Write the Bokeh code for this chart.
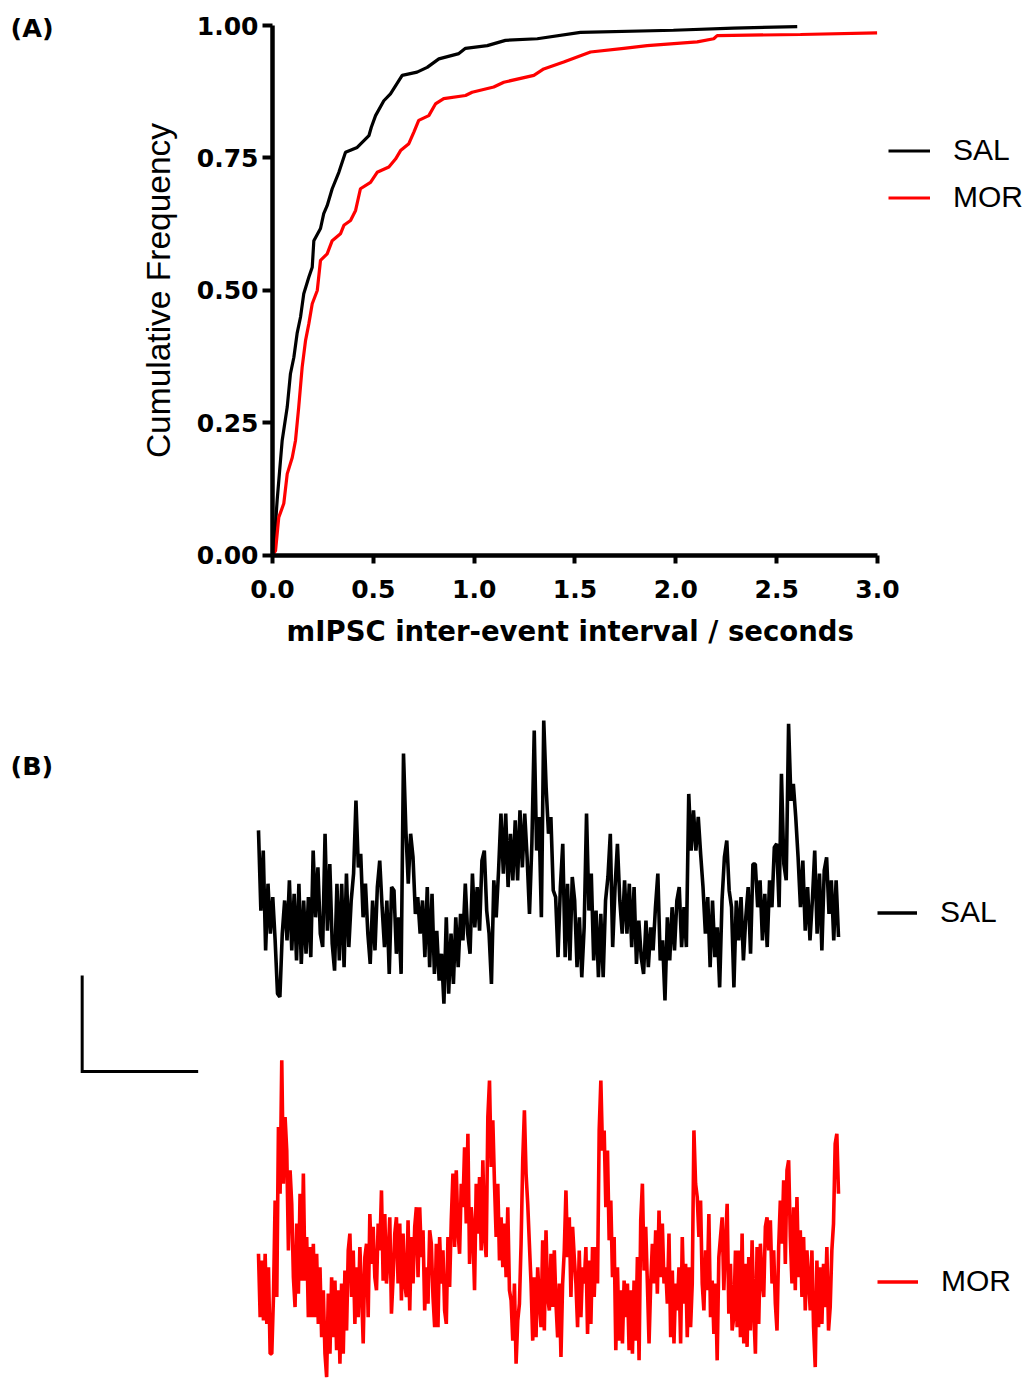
import numpy as np
from bokeh.plotting import figure
from bokeh.models import Range1d, FixedTicker, NumeralTickFormatter, Legend, Label
from bokeh.layouts import column
from bokeh.embed import file_html
from bokeh.resources import INLINE

# ---------------- Panel (A): cumulative frequency of mIPSC inter-event intervals ----------------
sal_interval_s = [0.0, 0.006, 0.023, 0.048, 0.073, 0.089, 0.106, 0.122, 0.139, 0.155,
                  0.180, 0.197, 0.205, 0.238, 0.254, 0.271, 0.296, 0.329, 0.362, 0.420,
                  0.478, 0.490, 0.511, 0.552, 0.585, 0.643, 0.717, 0.767, 0.825, 0.924,
                  0.957, 1.065, 1.155, 1.313, 1.527, 1.988, 2.286, 2.602]
sal_cum_freq = [0.0, 0.009, 0.104, 0.217, 0.280, 0.343, 0.374, 0.419, 0.450, 0.494,
                0.525, 0.544, 0.594, 0.617, 0.645, 0.660, 0.692, 0.723, 0.761, 0.770,
                0.792, 0.808, 0.830, 0.858, 0.871, 0.906, 0.912, 0.921, 0.937, 0.947,
                0.957, 0.962, 0.972, 0.975, 0.987, 0.991, 0.995, 0.998]

mor_interval_s = [0.0, 0.015, 0.031, 0.056, 0.073, 0.098, 0.114, 0.130, 0.147, 0.164,
                  0.180, 0.197, 0.222, 0.238, 0.271, 0.296, 0.337, 0.354, 0.387, 0.412,
                  0.436, 0.486, 0.519, 0.577, 0.610, 0.635, 0.676, 0.701, 0.725, 0.775,
                  0.808, 0.849, 0.957, 0.990, 1.097, 1.147, 1.296, 1.345, 1.444, 1.577,
                  1.742, 1.858, 2.106, 2.188, 2.205, 2.618, 2.998]
mor_cum_freq = [0.0, 0.009, 0.072, 0.098, 0.154, 0.185, 0.217, 0.280, 0.355, 0.406,
                0.437, 0.475, 0.500, 0.557, 0.569, 0.594, 0.607, 0.623, 0.632, 0.651,
                0.692, 0.704, 0.723, 0.733, 0.748, 0.764, 0.777, 0.799, 0.821, 0.830,
                0.852, 0.862, 0.868, 0.874, 0.884, 0.893, 0.906, 0.918, 0.931, 0.950,
                0.957, 0.962, 0.969, 0.975, 0.981, 0.983, 0.986]

x_tick_values = [0.0, 0.5, 1.0, 1.5, 2.0, 2.5, 3.0]
y_tick_values = [0.0, 0.25, 0.50, 0.75, 1.00]
series_labels = ["SAL", "MOR"]

# ---------------- Panel (B): example current traces (pA) ----------------
sal_trace_pA = [
    14.6, -2.1, 10.4, -10.4, 3.5, -6.9, 0.7, -8.3, -19.4, -20.1,
    -6.9, 0.0, -8.3, 4.2, -10.4, 1.4, -12.5, 3.5, -13.2, 0.0,
    -11.1, 0.7, -11.8, 10.4, -3.5, 6.9, -6.9, -9.7, 13.9, -6.3,
    7.6, -9.0, -14.6, 3.5, -12.5, 3.5, -13.9, 5.6, -9.7, 0.0,
    5.6, 20.8, 6.9, 9.7, -3.5, 3.5, -6.9, -13.2, 0.0, -10.4,
    2.8, 8.3, -1.4, -9.7, 0.0, -15.3, 2.8, 2.1, -11.1, -3.5,
    -15.3, 30.6, 14.6, 3.5, 13.9, 9.0, -2.8, 0.7, -6.9, 0.0,
    -11.8, 2.8, -13.9, 1.4, -15.3, -6.3, -16.7, -11.1, -21.5, -3.5,
    -19.4, -6.9, -17.4, -3.5, -13.9, -2.8, -8.3, 3.5, -6.9, -11.1,
    5.6, -5.6, 2.8, -6.3, 8.3, 10.4, -2.1, -6.9, -17.4, 4.2,
    -3.5, 6.3, 18.1, 5.6, 18.1, 2.8, 13.9, 4.2, 16.7, 4.2,
    18.8, 6.9, 18.1, 9.0, -2.8, 11.8, 35.4, 10.4, 17.4, -3.5,
    37.5,
    23.6, 13.9, 17.4, 2.1, 0.7, -11.8, 2.8, 11.8, -11.8, 3.5,
    -12.5, 4.9, 0.0, -13.9, -3.5, -16.0, -5.6, 18.1, -2.1, 5.6,
    -12.5, -2.1, -16.0, -2.8, -16.0, 0.0, 4.9, 13.9, -9.7, 2.8,
    11.8, 0.0, -6.9, 4.2, -6.9, 3.5, -9.7, 2.8, -13.2, -4.2,
    -11.8, -15.3, -4.2, -13.9, -5.6, -10.4, -1.4, 5.6, -12.5, -8.3,
    -20.8, -3.5, -12.5, -1.4, -10.4, 0.0, 2.8, -9.7, -1.4, -9.7,
    22.2, 10.4, 18.8, 10.4, 17.4, 9.7, 2.8, -6.9, 0.7, -13.9,
    0.0, -11.8, -5.6, -18.1, 0.0, 9.0, 12.5, 2.1, -1.4, -18.1,
    0.0, -8.3, 0.7, -12.5, -3.5, 2.8, -11.1, 7.6, 7.6, -1.4,
    4.2, -8.3, 1.4, -9.7, 4.2, -1.4, 11.1, 11.8, -1.4, 26.4,
    7.6, 4.2, 36.8, 20.8, 24.3, 17.4, 9.0, -1.4, 8.3, -6.3,
    2.8, -8.3, 0.0, 10.4, -6.9, 5.6, -10.4, 6.3, 9.0, -2.8,
    4.2, -8.3, 4.2, -7.6,
]

mor_trace_pA = [
    -0.7, -13.9, -2.1, -14.6, -0.7, -15.3, -3.5, -21.5, -21.5, -9.7,
    10.4, -9.7, 25.7, 11.8, 39.6, 13.9, 27.8, 20.8, 0.0, 16.7,
    9.7, -5.6, -11.8, 5.6, -9.0, 11.8, -6.3, 16.0, -6.3, 2.8,
    -13.9, 0.7, -13.9, 1.4, -13.9, -0.7, -15.3, -3.5, -18.1, -8.3,
    -21.5, -26.4, -9.0, -21.5, -5.6, -18.1, -6.3, -20.8, -8.3, -23.6,
    -6.9, -21.5, -4.2, -16.7, 0.0, 3.5, -9.7, 0.0, -15.3, -3.5,
    -13.9, 0.7, -8.3, -19.4, -1.4, 1.4, -13.9, 7.6, -2.8, 4.9,
    -5.6, -8.3, 5.6, 0.0, 12.5, -6.3, 7.6, -6.9, -1.4, 6.9,
    -13.2, -5.6, 3.5, 6.9, -6.9, 5.6, -10.4, 3.5, -6.9, -9.7,
    6.3, -12.5, 2.8, -6.9, 4.9, 9.0, -5.6, 9.0, -1.4, 4.2,
    -12.5, -3.5, -11.1, 4.2, 1.4, -9.7, -16.0, 1.4, -16.0, 2.8,
    -6.9, 0.0, -12.5, -15.3, 2.8, -7.6, 6.3, 16.0, 0.7, 16.7,
    4.2, -0.7, 13.9, 9.0, 21.5, 5.6, 24.3, -2.8, 9.0, 4.2,
    -8.3, 13.9, 3.5, 15.3, 0.0, 18.8, 2.8, -1.4, 27.8, 35.4,
    17.4, 27.1, 13.9, 2.8, 13.9, -2.1, 6.9, -3.5, 5.6, -5.6,
    9.0, -8.3, -10.4, -18.8, -6.9, -23.6, -14.6, -11.1, 1.4, 18.8,
    29.2, 16.0, 9.7, 1.4, -6.9, -18.8, -5.6, -18.1, -3.5, -10.4,
    -16.0, 2.1, -16.7, 4.2, -9.7,
    -12.5, -0.7, -11.8, 0.0, -11.1, -18.1, -6.9, -22.2, -6.9, 0.0,
    12.5, -1.4, 6.9, -9.7, 4.9, -1.4, -6.9, -16.0, 0.0, -13.9,
    -3.5, -6.9, 0.7, -17.4, -2.1, -15.3, 0.7, -9.7, 0.7, -6.9,
    25.0, 35.4, 20.8, 25.0, 9.0, 20.8, 2.1, 10.4, -5.6, 2.8,
    -20.8, -3.5, -18.8, -8.3, -19.4, -6.3, -13.9, -6.9, -20.8, -8.3,
    -21.5, -6.3, -18.8, -1.4, -22.9, 6.3, 13.9, -4.2, 4.9, -6.9,
    -19.4, -6.9, 1.4, -6.9, 4.2, -9.0, 8.3, -5.6, 5.6, -6.9,
    -3.5, -11.1, 3.5, -18.1, -4.2, -19.4, -6.9, -12.5, -3.5, -19.4,
    2.8, -11.1, -2.8, -18.1, -3.5, -16.0, -6.9, 25.0, 13.9, 11.1,
    2.8, 10.4, -6.9, -12.5, 0.0, -8.3, 7.6, -13.9, -6.3, -17.4,
    -6.9, -22.9, -1.4, 2.8, 6.9, -8.3, 1.4, 9.7, -13.2, -2.8,
    -16.7, -13.9, 0.0, -16.0, 0.0, -18.1, 3.5, -19.4, -2.8, -20.1,
    -1.4, -16.7, 2.1, -12.5, -21.5, 0.7, -15.3, 1.4, -6.3, -9.7,
    4.9, 6.9, 0.0, 6.3, -6.9, 0.0, -11.1, -16.7, 0.7, 10.4,
    1.4, 14.6, -2.8, 16.7, 18.8, 2.8, -6.9, 9.0, -8.3, 11.1,
    -5.6, 4.2, -9.7, 2.8, -12.5, 0.0, -6.3, -12.5, 0.0, -16.0,
    -24.3, -2.1, -16.0, -3.5, -15.3, -2.8, -11.8, 0.7, -16.7, -11.8,
    0.0, 5.6, 22.2, 24.3, 11.8,
]

trace_duration_ms = 500
scale_bar_pA = 20
scale_bar_ms = 100

BOLD_FONT = "DejaVu Sans"
REG_FONT = "Liberation Sans"
W = 1028

# ================= Figure A (frame fills the canvas; axes pinned at the origin) =================
HA = 684
pa = figure(width=W, height=HA, x_range=Range1d(-1.3488, 3.7488), y_range=Range1d(-0.2434, 1.04717),
            output_backend="svg", toolbar_location=None, min_border=0)
pa.grid.visible = False
pa.outline_line_color = None

r_sal = pa.line(sal_interval_s, sal_cum_freq, line_color="black", line_width=3.2)
r_mor = pa.line(mor_interval_s, mor_cum_freq, line_color="#ff0000", line_width=3.2)

xa = pa.xaxis[0]
ya = pa.yaxis[0]
xa.fixed_location = 0
ya.fixed_location = 0
xa.bounds = (0, 3)
ya.bounds = (0, 1)
xa.ticker = FixedTicker(ticks=x_tick_values, minor_ticks=[])
xa.formatter = NumeralTickFormatter(format="0.0")
ya.ticker = FixedTicker(ticks=y_tick_values, minor_ticks=[])
ya.formatter = NumeralTickFormatter(format="0.00")
for ax in (xa, ya):
    ax.axis_line_width = 4.5
    ax.axis_line_color = "black"
    ax.major_tick_line_width = 4
    ax.major_tick_line_color = "black"
    ax.major_tick_in = 0
    ax.minor_tick_line_color = None
    ax.major_label_text_font = BOLD_FONT
    ax.major_label_text_font_style = "bold"
    ax.major_label_text_font_size = "25px"
    ax.major_label_text_color = "black"
xa.major_tick_out = 8
ya.major_tick_out = 10
xa.major_label_standoff = 17
ya.major_label_standoff = 4

xa.axis_label = "mIPSC inter-event interval  / seconds"
xa.axis_label_text_font = BOLD_FONT
xa.axis_label_text_font_style = "bold"
xa.axis_label_text_font_size = "27.5px"
xa.axis_label_text_color = "black"
xa.axis_label_standoff = 13

ya.axis_label = "Cumulative Frequency"
ya.axis_label_text_font = REG_FONT
ya.axis_label_text_font_style = "normal"
ya.axis_label_text_font_size = "33.5px"
ya.axis_label_text_color = "black"
ya.axis_label_standoff = 17

pa.add_layout(Label(x=-1.299, y=0.9962, text="(A)", text_font=BOLD_FONT, text_font_style="bold",
                    text_font_size="25.5px", text_baseline="middle", text_align="left",
                    text_color="black"))


def style_legend(leg, glyph_w, standoff):
    leg.glyph_width = glyph_w
    leg.glyph_height = 47
    leg.label_height = 47
    leg.label_standoff = standoff
    leg.padding = 0
    leg.margin = 0
    leg.spacing = 0
    leg.border_line_color = None
    leg.background_fill_alpha = 0
    leg.label_text_font = REG_FONT
    leg.label_text_font_size = "30px"
    leg.label_text_color = "black"


leg_a = Legend(items=[(series_labels[0], [r_sal]), (series_labels[1], [r_mor])], location=(888, 463.5))
style_legend(leg_a, 42, 23)
pa.add_layout(leg_a)

# ================= Figure B =================
HB = 696
pb = figure(width=W, height=HB, x_range=Range1d(-222.41, 663.79), y_range=Range1d(-100.0, 45.0),
            x_axis_type=None, y_axis_type=None, output_backend="svg", toolbar_location=None,
            min_border=0)
pb.outline_line_color = None

sal_offset = 0.0
mor_offset = -72.9
t_sal = np.linspace(0, trace_duration_ms, len(sal_trace_pA))
t_mor = np.linspace(0, trace_duration_ms, len(mor_trace_pA))
rb_sal = pb.line(t_sal, np.array(sal_trace_pA) + sal_offset, line_color="black", line_width=3.6)
rb_mor = pb.line(t_mor, np.array(mor_trace_pA) + mor_offset, line_color="#ff0000", line_width=3.6)

# scale bar (vertical = scale_bar_pA, horizontal = scale_bar_ms)
sb_x0, sb_y0 = -152.0, -35.6
pb.line([sb_x0, sb_x0, sb_x0 + scale_bar_ms], [sb_y0 + scale_bar_pA, sb_y0, sb_y0],
        line_color="black", line_width=3, line_join="miter")

pb.add_layout(Label(x=-213.8, y=28.1, text="(B)", text_font=BOLD_FONT, text_font_style="bold",
                    text_font_size="25.5px", text_baseline="middle", text_align="left",
                    text_color="black"))

leg_b1 = Legend(items=[(series_labels[0], [rb_sal])], location=(877, 444.5))
style_legend(leg_b1, 40, 23)
leg_b1.glyph_height = 47
pb.add_layout(leg_b1)
leg_b2 = Legend(items=[(series_labels[1], [rb_mor])], location=(877, 75.5))
style_legend(leg_b2, 41, 23)
pb.add_layout(leg_b2)

layout = column(pa, pb)
open("out.html", "w").write(file_html(layout, INLINE, title="mIPSC"))
